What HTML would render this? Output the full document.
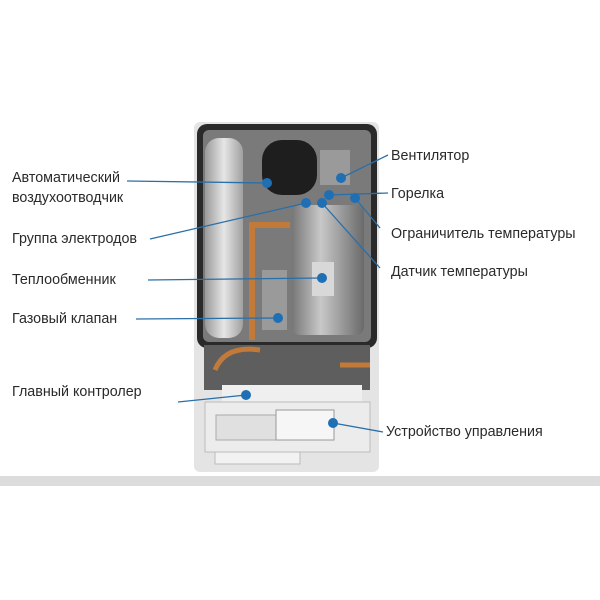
<!DOCTYPE html>
<html><head><meta charset="utf-8"><style>
body{margin:0;width:600px;height:600px;background:#fff;position:relative;overflow:hidden;font-family:"Liberation Sans",sans-serif}
.t{position:absolute;font-size:14.3px;color:#2a2a2a;white-space:nowrap;line-height:20px}
svg{position:absolute;left:0;top:0}
</style></head><body>
<svg width="600" height="600">
<defs>
<linearGradient id="cyl" x1="0" x2="1"><stop offset="0" stop-color="#777"/><stop offset=".4" stop-color="#c8c8c8"/><stop offset="1" stop-color="#6a6a6a"/></linearGradient>
<linearGradient id="tank" x1="0" x2="1"><stop offset="0" stop-color="#9a9a9a"/><stop offset=".5" stop-color="#e6e6e6"/><stop offset="1" stop-color="#a0a0a0"/></linearGradient>
</defs>
<rect x="0" y="476" width="600" height="10" fill="#dcdcdc"/>
<rect x="194" y="122" width="185" height="350" rx="6" fill="#e4e4e4"/>
<rect x="197" y="124" width="180" height="224" rx="10" fill="#2a2a2a"/>
<rect x="203" y="130" width="168" height="212" rx="6" fill="#7a7a7a"/>
<rect x="205" y="138" width="38" height="200" rx="14" fill="url(#tank)"/>
<rect x="262" y="140" width="55" height="55" rx="20" fill="#1e1e1e"/>
<rect x="320" y="150" width="30" height="35" fill="#9a9a9a"/>
<rect x="292" y="205" width="72" height="130" rx="8" fill="url(#cyl)"/>
<rect x="312" y="262" width="22" height="34" fill="#d8d8d8"/>
<path d="M252 340 V225 H290" stroke="#c27a3a" stroke-width="6" fill="none"/>
<rect x="262" y="270" width="25" height="60" fill="#9a9a9a"/>
<rect x="204" y="345" width="166" height="45" fill="#5e5e5e"/>
<path d="M215 370 Q225 345 260 350 M340 365 H370" stroke="#c27a3a" stroke-width="5" fill="none"/>
<rect x="222" y="385" width="140" height="18" fill="#efefef"/>
<rect x="205" y="402" width="165" height="50" fill="#ececec" stroke="#bbb"/>
<rect x="216" y="415" width="60" height="25" fill="#e0e0e0" stroke="#aaa"/>
<rect x="276" y="410" width="58" height="30" fill="#f6f6f6" stroke="#999"/>
<rect x="215" y="452" width="85" height="12" fill="#f2f2f2" stroke="#bbb"/>
<g stroke="#2a6fa8" stroke-width="1.3" fill="none">
<line x1="127" y1="181" x2="267" y2="183"/>
<line x1="150" y1="239" x2="306" y2="203"/>
<line x1="148" y1="280" x2="322" y2="278"/>
<line x1="136" y1="319" x2="278" y2="318"/>
<line x1="178" y1="402" x2="246" y2="395"/>
<line x1="341" y1="178" x2="388" y2="155"/>
<line x1="329" y1="195" x2="388" y2="193"/>
<line x1="355" y1="198" x2="380" y2="228"/>
<line x1="322" y1="203" x2="380" y2="268"/>
<line x1="333" y1="423" x2="383" y2="432"/>
</g>
<g fill="#1f6fb5">
<circle cx="267" cy="183" r="5"/><circle cx="306" cy="203" r="5"/><circle cx="322" cy="203" r="5"/>
<circle cx="322" cy="278" r="5"/><circle cx="278" cy="318" r="5"/><circle cx="246" cy="395" r="5"/>
<circle cx="341" cy="178" r="5"/><circle cx="329" cy="195" r="5"/><circle cx="355" cy="198" r="5"/>
<circle cx="333" cy="423" r="5"/>
</g>
</svg>
<div class="t" style="left:12px;top:168px">Автоматический<br>воздухоотводчик</div>
<div class="t" style="left:12px;top:229px">Группа электродов</div>
<div class="t" style="left:12px;top:270px">Теплообменник</div>
<div class="t" style="left:12px;top:309px">Газовый клапан</div>
<div class="t" style="left:12px;top:382px">Главный контролер</div>
<div class="t" style="left:391px;top:146px">Вентилятор</div>
<div class="t" style="left:391px;top:184px">Горелка</div>
<div class="t" style="left:391px;top:224px">Ограничитель температуры</div>
<div class="t" style="left:391px;top:262px">Датчик температуры</div>
<div class="t" style="left:386px;top:422px">Устройство управления</div>
</body></html>
